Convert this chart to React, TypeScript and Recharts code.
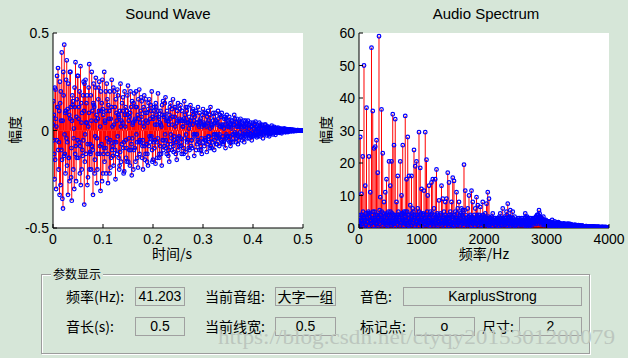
import React from 'react'
import { ComposedChart, Bar, Scatter, XAxis, YAxis, CartesianGrid } from 'recharts'

// sampling steps of the two plots
const WAVE_DT = 0.0025
const SPEC_DF = 20

// waveform samples at 0, 0.0025, 0.005 ... s (10 per row = 0.025 s)
const WAVE_A = [
  0.03, -0.12, 0.21, -0.05, 0.32, 0.1, -0.28, 0.4, -0.4, 0.44,
  -0.22, 0.36, -0.33, 0.08, 0.3, -0.36, 0.15, -0.3, 0.35, -0.14,
  0.28, -0.06, 0.33, -0.2, 0.18, -0.38, 0.26, 0.04, -0.24, 0.34,
  -0.12, 0.3, -0.33, 0.12, 0.22, -0.27, 0.06, 0.25, -0.31, 0.14,
  -0.22, 0.3, -0.09, 0.24, -0.27, 0.1, -0.19, 0.26, -0.13, 0.2,
  -0.25, 0.05, 0.18, -0.2, 0.24, -0.07, 0.17, -0.21, 0.12, -0.16,
  0.23, -0.1, 0.2, -0.23, 0.04, 0.19, -0.16, 0.12, -0.19, 0.21,
  -0.06, 0.15, -0.2, 0.18, -0.12, 0.09, -0.18, 0.16, -0.04, 0.2,
  -0.15, 0.12, -0.17, 0.03, 0.19, -0.14, 0.1, -0.18, 0.15, -0.08,
  0.17, -0.12, 0.05, -0.16, 0.14, -0.1, 0.16, -0.03, 0.12, -0.15,
  0.14, -0.08, 0.13, -0.12, 0.02, 0.15, -0.11, 0.1, -0.14, 0.07,
  0.13, -0.05, 0.11, -0.13, 0.09, -0.02, 0.12, -0.1, 0.06, -0.12,
  0.11, -0.08, 0.03, -0.11, 0.1, -0.06, 0.12, -0.09, 0.05, -0.1,
  0.09, -0.04, 0.1, -0.08, 0.02, 0.09, -0.07, 0.06, -0.09, 0.08,
  -0.03, 0.07, -0.08, 0.05, -0.06, 0.08, -0.02, 0.06, -0.07, 0.04,
  0.06, -0.05, 0.03, -0.06, 0.05, -0.02, 0.05, -0.04, 0.04, -0.05,
  0.04, -0.02, 0.045, -0.035, 0.01, 0.04, -0.03, 0.03, -0.04, 0.02,
  0.03, -0.025, 0.02, -0.03, 0.008, 0.025, -0.02, 0.018, -0.022, 0.012,
  0.015, -0.012, 0.01, -0.014, 0.006, 0.011, -0.009, 0.007, -0.008, 0.005,
  0.005, -0.004, 0.004, -0.003, 0.002, -0.002, 0.002, -0.001, 0.001, 0,
]

// samples a quarter step later
const WAVE_B = [
  0.15, -0.25, 0.06, 0.28, -0.1, -0.33, 0.2, -0.15, 0.3, -0.02,
  0.1, -0.18, 0.24, -0.26, 0.12, 0.05, -0.2, 0.22, -0.08, 0.16,
  -0.14, 0.2, -0.28, 0.09, -0.05, 0.24, -0.12, 0.18, 0.02, -0.2,
  0.18, -0.08, 0.14, -0.22, 0.27, -0.04, 0.16, -0.12, 0.2, -0.26,
  0.08, -0.16, 0.2, -0.04, 0.13, -0.22, 0.06, -0.1, 0.22, -0.06,
  0.16, -0.12, 0.08, -0.18, 0.02, 0.14, -0.09, 0.2, -0.05, 0.1,
  -0.16, 0.07, -0.1, 0.15, -0.2, 0.05, 0.12, -0.06, 0.16, -0.12,
  0.1, -0.14, 0.04, -0.08, 0.16, -0.16, 0.11, -0.03, 0.13, -0.1,
  0.06, -0.09, 0.14, -0.06, 0.1, -0.12, 0.03, 0.13, -0.1, 0.08,
  -0.05, 0.1, -0.13, 0.08, -0.02, 0.11, -0.08, 0.12, -0.12, 0.04,
  -0.1, 0.06, -0.04, 0.1, -0.09, 0.05, 0.12, -0.06, 0.04, -0.1,
  0.05, -0.09, 0.08, -0.03, 0.1, -0.07, 0.03, 0.09, -0.08, 0.02,
  -0.06, 0.09, -0.05, 0.07, -0.03, 0.08, -0.08, 0.02, 0.09, -0.05,
  0.05, -0.07, 0.06, -0.02, 0.07, -0.06, 0.03, -0.05, 0.06, -0.03,
  0.04, -0.06, 0.02, 0.05, -0.04, 0.03, -0.06, 0.04, -0.02, 0.05,
  -0.03, 0.04, -0.04, 0.02, -0.03, 0.04, -0.01, 0.03, -0.03, 0.02,
  -0.03, 0.03, -0.01, 0.02, -0.03, 0.02, -0.01, 0.025, -0.02, 0.01,
  -0.015, 0.02, -0.01, 0.015, -0.018, 0.01, -0.005, 0.012, -0.01, 0.008,
  -0.008, 0.01, -0.005, 0.008, -0.006, 0.004, -0.006, 0.005, -0.003, 0.004,
  -0.003, 0.003, -0.002, 0.002, -0.002, 0.001, -0.001, 0.001, 0, 0,
]

// samples half a step later
const WAVE_C = [
  -0.05, 0.22, -0.3, 0.12, -0.2, 0.25, 0.05, -0.35, 0.18, -0.12,
  0.26, -0.06, -0.14, 0.3, -0.24, 0.18, -0.04, 0.12, -0.26, 0.28,
  0.06, -0.22, 0.14, -0.1, 0.25, -0.16, 0.04, -0.28, 0.22, -0.07,
  -0.2, 0.1, 0.24, -0.15, 0.05, -0.2, 0.22, -0.08, 0.1, 0.26,
  -0.12, 0.05, -0.22, 0.16, -0.06, 0.2, -0.14, 0.02, -0.18, 0.12,
  -0.06, 0.21, -0.14, 0.1, -0.16, 0.04, -0.22, 0.08, -0.14, 0.18,
  0.05, -0.18, 0.12, -0.04, 0.14, -0.09, 0.2, -0.14, 0.06, -0.05,
  0.17, -0.08, 0.12, -0.15, 0.05, -0.12, 0.14, -0.06, 0.1, -0.16,
  0.1, -0.05, 0.12, -0.14, 0.07, 0.04, -0.12, 0.08, -0.05, 0.14,
  -0.09, 0.06, -0.1, 0.12, -0.07, 0.03, -0.11, 0.07, -0.06, 0.1,
  -0.04, 0.11, -0.08, 0.05, -0.12, 0.08, -0.02, 0.12, -0.09, 0.03,
  -0.08, 0.1, -0.02, 0.07, -0.1, 0.04, -0.06, 0.05, -0.1, 0.08,
  0.04, -0.05, 0.09, -0.07, 0.05, -0.09, 0.03, -0.06, 0.07, -0.02,
  -0.07, 0.04, -0.03, 0.08, -0.05, 0.02, -0.06, 0.07, -0.04, 0.05,
  -0.05, 0.03, -0.06, 0.04, -0.02, 0.06, -0.04, 0.02, -0.05, 0.03,
  0.02, -0.03, 0.05, -0.02, 0.03, -0.04, 0.03, -0.02, 0.02, -0.03,
  -0.02, 0.035, -0.025, 0.01, -0.02, 0.03, -0.02, 0.01, -0.015, 0.03,
  -0.01, 0.012, -0.02, 0.01, -0.012, 0.015, -0.01, 0.008, -0.012, 0.01,
  -0.006, 0.007, -0.01, 0.004, -0.005, 0.006, -0.004, 0.003, -0.005, 0.003,
  -0.002, 0.002, -0.003, 0.001, -0.001, 0.002, -0.001, 0, -0.001, 0,
]

// small samples three quarters of a step later
const WAVE_D = [
  0.08, -0.15, 0.02, 0.12, -0.06, 0.14, -0.1, 0.05, -0.13, 0.09,
  -0.04, 0.11, -0.14, 0.06, -0.09, 0.13, 0.01, -0.12, 0.07, -0.05,
  0.12, -0.08, 0.04, -0.13, 0.1, -0.02, 0.14, -0.07, 0.09, -0.11,
  0.05, -0.1, 0.13, -0.03, 0.08, -0.12, 0.1, 0.02, -0.07, 0.11,
  -0.09, 0.04, 0.1, -0.12, 0.06, -0.05, 0.12, -0.08, 0.03, -0.1,
  0.09, -0.03, 0.07, -0.11, 0.05, 0.1, -0.06, 0.02, -0.09, 0.08,
  -0.04, 0.09, -0.07, 0.03, -0.1, 0.06, -0.02, 0.08, -0.06, 0.04,
  0.07, -0.05, 0.02, 0.09, -0.07, 0.04, -0.08, 0.06, -0.03, 0.07,
  -0.06, 0.03, 0.08, -0.04, 0.06, -0.08, 0.02, -0.05, 0.07, -0.02,
  0.05, -0.07, 0.03, 0.06, -0.04, 0.07, -0.05, 0.02, -0.06, 0.05,
  -0.03, 0.05, -0.06, 0.02, 0.06, -0.04, 0.04, -0.05, 0.01, 0.05,
  -0.05, 0.03, 0.05, -0.02, 0.04, -0.05, 0.02, 0.04, -0.04, 0.03,
  0.03, -0.04, 0.02, 0.04, -0.03, 0.01, -0.04, 0.03, -0.02, 0.04,
  -0.02, 0.03, -0.04, 0.02, 0.03, -0.03, 0.01, 0.03, -0.02, 0.02,
  0.02, -0.03, 0.01, -0.02, 0.03, -0.01, 0.02, -0.03, 0.02, -0.01,
  0.01, -0.02, 0.02, -0.01, 0.015, -0.02, 0.01, -0.015, 0.02, -0.01,
  0.012, -0.01, 0.015, -0.008, 0.01, -0.012, 0.006, -0.01, 0.008, -0.006,
  0.006, -0.008, 0.005, -0.006, 0.007, -0.004, 0.005, -0.006, 0.004, -0.003,
  0.003, -0.004, 0.002, -0.003, 0.003, -0.002, 0.002, -0.002, 0.001, -0.002,
  0.001, -0.001, 0.001, -0.001, 0.001, 0, 0.001, 0, 0, 0,
]

// spectrum magnitude at 0, 20, 40 ... Hz
const SPEC_PEAKS = [
  0.5, 28, 10.5, 22, 50, 13, 37, 4.5, 22, 11,
  55.5, 36, 24.5, 25, 27, 17, 59, 9.5, 36.5, 23,
  8, 11, 15, 4, 20.5, 13, 20.5, 35, 25.5, 33.5,
  8, 16, 3.5, 20.5, 10, 25.5, 5, 34.5, 15, 28,
  16, 7, 16, 6, 24, 19, 20.5, 6, 29.5, 18.5,
  12, 4, 11.5, 29.5, 21, 10, 13, 5, 14, 15,
  6, 15, 18, 4, 8.5, 3, 13, 9, 5, 8,
  9, 17, 14, 5, 8, 15.5, 14.5, 5, 11, 6,
  8, 4, 6, 5.5, 19.5, 11.5, 3, 6, 10, 4,
  11.5, 8, 3, 6, 9.5, 7, 4, 6.5, 3, 8,
  3, 4.5, 7.5, 11, 9, 3, 2.5, 4.5, 2, 2.5,
  2, 3, 2, 4.5, 2.5, 6, 2, 3, 5, 7.5,
  3.5, 5.5, 2.5, 5, 2, 1.5, 2.5, 1.5, 2, 1.5,
  1.5, 2, 2.5, 4.5, 2, 3, 1.5, 1, 1.5, 2,
  2.5, 3, 3.5, 4, 5.5, 3.5, 2.5, 2, 1.5, 1,
  1.5, 2, 1.2, 1.5, 1, 1.8, 1.3, 0.8, 1.2, 1,
  0.9, 1.4, 0.8, 1.1, 0.7, 1.2, 0.9, 0.6, 1.3, 0.7,
  1, 0.6, 0.8, 0.5, 0.9, 0.6, 0.4, 0.7, 0.5, 0.4,
  0.5, 0.3, 0.6, 0.4, 0.3, 0.5, 0.3, 0.4, 0.2, 0.3,
  0.3, 0.2, 0.3, 0.2, 0.2, 0.3, 0.1, 0.2, 0.2, 0.1,
]

// low bins at 5, 25, 45 ... Hz
const SPEC_FLOOR_A = [
  1.5, 4, 2, 5, 3, 1, 3.5, 2, 4.5, 1.5,
  3, 5, 2, 4, 1.5, 3, 4, 2.5, 5, 2,
  3.5, 1.5, 4.5, 2, 3, 5, 1.5, 4, 2.5, 3.5,
  2, 4, 3, 1.5, 4.5, 2.5, 3.5, 5, 1.5, 4,
  3, 2, 4.5, 1.5, 3.5, 4, 2, 3, 5, 1.5,
  2.5, 4.5, 3, 1, 4, 2, 3.5, 1.5, 4.5, 2.5,
  4, 1.5, 3, 3.5, 2, 4.5, 1.5, 3, 2.5, 4,
  1.5, 3, 4, 2, 3.5, 1, 4, 2.5, 3, 1.5,
  3, 4.5, 1.5, 3.5, 2, 4, 2.5, 1.5, 3.5, 2,
  2, 3, 4, 1.5, 2.5, 3.5, 1.5, 3, 2, 4,
  3.5, 1.5, 2, 3, 1, 2.5, 3.5, 1.5, 2, 3,
  1.5, 2.5, 3.5, 1, 2, 3, 1.5, 2.5, 4, 1.5,
  2, 3.5, 1.5, 3, 2, 1, 2.5, 3, 1.5, 2.5,
  3, 1.5, 2, 3.5, 1, 2.5, 3, 1.5, 2, 3,
  2, 3, 2.5, 4, 3.5, 2, 3, 1.5, 2.5, 2,
  1.2, 2, 1, 1.8, 1.3, 0.8, 1.5, 1, 1.7, 1.1,
  1, 0.7, 1.2, 0.8, 1.3, 0.6, 1, 0.9, 1.1, 0.5,
  0.8, 0.5, 0.7, 0.9, 0.4, 0.6, 0.8, 0.3, 0.6, 0.5,
  0.4, 0.3, 0.5, 0.2, 0.4, 0.3, 0.2, 0.4, 0.3, 0.2,
  0.2, 0.3, 0.1, 0.2, 0.2, 0.1, 0.3, 0.1, 0.2, 0.1,
]

// low bins at 10, 30, 50 ... Hz
const SPEC_FLOOR_B = [
  3, 2.5, 4, 3.5, 2, 4.5, 3, 5, 3.5, 2.5,
  4, 3, 5, 2.5, 4, 3.5, 5.5, 4, 3, 4.5,
  2.5, 4, 3, 5, 2, 3.5, 4.5, 3, 4, 2.5,
  3.5, 5, 2.5, 4, 3, 4.5, 2, 3.5, 5, 3,
  4, 2.5, 3.5, 5, 3, 2, 4, 3.5, 2.5, 4.5,
  3, 4, 2, 3.5, 5, 2.5, 3, 4, 2, 3.5,
  2.5, 3.5, 4.5, 2, 3, 4, 2.5, 3.5, 2, 3,
  3.5, 2, 3, 4, 2.5, 3.5, 2, 3, 4.5, 2.5,
  2, 3, 4, 2.5, 5.5, 3, 2, 3.5, 2.5, 3,
  3.5, 2.5, 2, 3, 4, 2.5, 3, 2, 3.5, 2.5,
  2, 3, 2.5, 3.5, 2, 3, 2.5, 2, 3, 2.5,
  3, 2, 2.5, 3, 2, 2.5, 3.5, 2, 2.5, 3,
  2.5, 3, 2, 2.5, 3.5, 2, 2.5, 2, 3, 2,
  2, 2.5, 3, 2, 3.5, 2.5, 2, 3, 2.5, 2,
  3, 3.5, 4, 3, 4.5, 3, 2.5, 3.5, 2, 2.5,
  2, 1.5, 2, 1.5, 2.5, 1.5, 2, 1.2, 1.5, 1.8,
  1.5, 1.2, 1, 1.4, 1.1, 0.9, 1.3, 1, 0.8, 1.2,
  0.9, 0.7, 1, 0.8, 0.6, 0.9, 0.7, 0.5, 0.8, 0.6,
  0.5, 0.6, 0.4, 0.5, 0.4, 0.3, 0.5, 0.4, 0.3, 0.4,
  0.3, 0.4, 0.2, 0.3, 0.3, 0.2, 0.2, 0.3, 0.1, 0.2,
]

// lowest bins at 15, 35, 55 ... Hz
const SPEC_FLOOR_C = [
  0.8, 2, 1.2, 0.5, 2.5, 1, 1.8, 0.6, 2.2, 1.4,
  1.6, 0.7, 2.4, 1.1, 0.5, 1.9, 1.3, 2.6, 0.8, 1.5,
  2, 1, 0.6, 2.3, 1.4, 0.9, 2.1, 1.2, 0.5, 1.8,
  1.1, 2.4, 0.8, 1.6, 2, 0.6, 1.3, 2.2, 1, 0.7,
  1.9, 0.9, 1.5, 2.5, 0.7, 1.2, 2, 0.5, 1.7, 1.1,
  0.6, 1.8, 1.2, 2.2, 0.9, 1.5, 0.7, 2.1, 1.3, 0.8,
  2, 1.1, 0.6, 1.7, 1.3, 2.3, 0.8, 1.4, 0.5, 1.9,
  1.2, 0.7, 2.1, 1, 1.6, 0.6, 2.4, 1.1, 0.9, 1.5,
  0.8, 1.7, 1.2, 0.5, 2, 1.3, 0.9, 1.8, 1.1, 0.6,
  1.4, 2, 0.7, 1.2, 1.6, 0.9, 2.2, 0.6, 1.3, 1,
  0.9, 1.4, 1.1, 0.6, 1.8, 1.2, 0.7, 1.5, 1, 0.8,
  1.3, 0.6, 1.6, 1, 0.8, 1.4, 0.9, 1.7, 0.6, 1.2,
  0.7, 1.2, 0.9, 1.5, 0.6, 1.1, 1.4, 0.8, 1.2, 0.9,
  1.1, 0.8, 1.4, 0.6, 1.2, 1, 0.7, 1.3, 0.9, 1.5,
  1.6, 1.2, 1.9, 1.4, 2, 1.1, 1.5, 0.9, 1.3, 1,
  0.8, 1.1, 0.6, 0.9, 1.2, 0.7, 1, 0.8, 0.6, 0.9,
  0.6, 0.8, 0.5, 0.7, 0.6, 0.4, 0.7, 0.5, 0.6, 0.4,
  0.5, 0.4, 0.6, 0.3, 0.5, 0.4, 0.3, 0.5, 0.4, 0.3,
  0.3, 0.2, 0.3, 0.4, 0.2, 0.3, 0.2, 0.2, 0.3, 0.2,
  0.2, 0.1, 0.2, 0.1, 0.2, 0.1, 0.1, 0.2, 0.1, 0.1,
]

const WAVE_X_TICKS = [0, 0.1, 0.2, 0.3, 0.4, 0.5]
const WAVE_Y_TICKS = [-0.5, 0, 0.5]
const SPEC_X_TICKS = [0, 1000, 2000, 3000, 4000]
const SPEC_Y_TICKS = [0, 10, 20, 30, 40, 50, 60]

const waveData = WAVE_A.flatMap((v, i) => [
  { x: i * WAVE_DT, y: v },
  { x: i * WAVE_DT + WAVE_DT / 4, y: WAVE_B[i] },
  { x: i * WAVE_DT + WAVE_DT / 2, y: WAVE_C[i] },
  { x: i * WAVE_DT + (3 * WAVE_DT) / 4, y: WAVE_D[i] },
])
const specData = SPEC_PEAKS.flatMap((v, i) => [
  { x: i * SPEC_DF, y: v },
  { x: i * SPEC_DF + SPEC_DF / 4, y: SPEC_FLOOR_A[i] },
  { x: i * SPEC_DF + SPEC_DF / 2, y: SPEC_FLOOR_B[i] },
  { x: i * SPEC_DF + (3 * SPEC_DF) / 4, y: SPEC_FLOOR_C[i] },
])

const BG = '#d6e6d8'
const SANS = '"Liberation Sans", Arial, sans-serif'
const CJK = '"Noto Sans CJK SC", "Noto Sans", sans-serif'
const TL = 4 // inward tick length

const Stem = (p: any) => {
  if (p.x == null || p.height == null) return null
  const cx = p.x + p.width / 2
  return <line x1={cx} x2={cx} y1={p.y} y2={p.y + p.height} stroke="#ff0000" strokeWidth={1} />
}

const Marker = (p: any) => (
  <circle cx={p.cx} cy={p.cy} r={1.8} fill="none" stroke="#0000ff" strokeWidth={1.2} />
)

const LeftTick = (p: any) => (
  <g>
    <line x1={p.x + 4} x2={p.x + 4 + TL} y1={p.y} y2={p.y} stroke="#000" />
    <text x={p.x} y={p.y} dy={5} textAnchor="end" fontSize={14} fontFamily={SANS} fill="#000">
      {p.payload.value}
    </text>
  </g>
)

const BottomTick = (p: any) => (
  <g>
    <line x1={p.x} x2={p.x} y1={p.y - 5} y2={p.y - 5 - TL} stroke="#000" />
    <text x={p.x} y={p.y} dy={11} textAnchor="middle" fontSize={14} fontFamily={SANS} fill="#000">
      {p.payload.value}
    </text>
  </g>
)

const TopTick = (p: any) => <line x1={p.x} x2={p.x} y1={p.y} y2={p.y + TL} stroke="#000" />
const RightTick = (p: any) => <line x1={p.x - TL} x2={p.x} y1={p.y} y2={p.y} stroke="#000" />

function StemPlot({ data, xDomain, yDomain, xTicks, yTicks, left, right }: any) {
  return (
    <div style={{ position: 'absolute', left: 0, top: 0 }}>
      <ComposedChart
        width={628}
        height={358}
        data={data}
        margin={{ top: 33, right: right, bottom: 100, left: left }}
      >
        <CartesianGrid fill="#ffffff" horizontal={false} vertical={false} />
        <XAxis
          dataKey="x"
          type="number"
          domain={xDomain}
          ticks={xTicks}
          interval={0}
          height={30}
          tickSize={0}
          tickMargin={5}
          axisLine={{ stroke: '#000' }}
          tick={<BottomTick />}
          allowDataOverflow
        />
        <XAxis
          xAxisId="top"
          orientation="top"
          type="number"
          domain={xDomain}
          ticks={xTicks}
          interval={0}
          height={0}
          tickSize={0}
          tickMargin={0}
          axisLine={{ stroke: '#000' }}
          tick={<TopTick />}
          allowDataOverflow
        />
        <YAxis
          type="number"
          domain={yDomain}
          ticks={yTicks}
          interval={0}
          width={50}
          tickSize={0}
          tickMargin={4}
          axisLine={{ stroke: '#000' }}
          tick={<LeftTick />}
          allowDataOverflow
        />
        <YAxis
          yAxisId="right"
          orientation="right"
          type="number"
          domain={yDomain}
          ticks={yTicks}
          interval={0}
          width={0}
          tickSize={0}
          tickMargin={0}
          axisLine={{ stroke: '#000' }}
          tick={<RightTick />}
          allowDataOverflow
        />
        <Bar dataKey="y" barSize={1} shape={<Stem />} isAnimationActive={false} />
        <Scatter dataKey="y" shape={<Marker />} isAnimationActive={false} />
      </ComposedChart>
    </div>
  )
}

const abs = (s: React.CSSProperties): React.CSSProperties => ({ position: 'absolute', ...s })

function Label({ x, y, text }: { x: number; y: number; text: string }) {
  return (
    <div style={abs({ left: x, top: y - 10, height: 20, lineHeight: '20px', fontFamily: CJK, fontSize: 14, color: '#000', whiteSpace: 'nowrap' })}>
      {text}
    </div>
  )
}

function Field({ x1, x2, y1, y2, text }: { x1: number; x2: number; y1: number; y2: number; text: string }) {
  return (
    <div
      style={abs({
        left: x1,
        top: y1,
        width: x2 - x1 - 2,
        height: y2 - y1 - 2,
        border: '1px solid #a0a0a0',
        lineHeight: `${y2 - y1 - 2}px`,
        textAlign: 'center',
        fontFamily: /[\u4e00-\u9fff]/.test(text) ? CJK : SANS,
        fontSize: 14,
        color: '#000',
        whiteSpace: 'nowrap',
      })}
    >
      {text}
    </div>
  )
}

export default function App() {
  return (
    <div style={abs({ left: 0, top: 0, width: 628, height: 358, background: BG, overflow: 'hidden' })}>
      <StemPlot data={waveData} xDomain={[0, 0.5]} yDomain={[-0.5, 0.5]} xTicks={WAVE_X_TICKS} yTicks={WAVE_Y_TICKS} left={3} right={325} />
      <StemPlot data={specData} xDomain={[0, 4000]} yDomain={[0, 60]} xTicks={SPEC_X_TICKS} yTicks={SPEC_Y_TICKS} left={309} right={19} />

      <div style={abs({ left: 78, top: 5, width: 180, textAlign: 'center', fontFamily: SANS, fontSize: 15, color: '#000' })}>Sound Wave</div>
      <div style={abs({ left: 386, top: 5, width: 200, textAlign: 'center', fontFamily: SANS, fontSize: 15, color: '#000' })}>Audio Spectrum</div>
      <div style={abs({ left: 118, top: 243, width: 108, textAlign: 'center', fontFamily: CJK, fontSize: 14, color: '#000' })}>时间/s</div>
      <div style={abs({ left: 430, top: 243, width: 108, textAlign: 'center', fontFamily: CJK, fontSize: 14, color: '#000' })}>频率/Hz</div>
      <div style={abs({ left: -16, top: 120, width: 60, textAlign: 'center', fontFamily: CJK, fontSize: 14, color: '#000', transform: 'rotate(-90deg)' })}>幅度</div>
      <div style={abs({ left: 295, top: 120, width: 60, textAlign: 'center', fontFamily: CJK, fontSize: 14, color: '#000', transform: 'rotate(-90deg)' })}>幅度</div>

      {/* parameter panel */}
      <div style={abs({ left: 41, top: 274, width: 547, height: 78, border: '1px solid #9c9c9c', boxShadow: 'inset 1px 1px 0 #ffffff, 1px 1px 0 #ffffff' })} />
      <div style={abs({ left: 51, top: 265, padding: '0 2px', background: BG, fontFamily: CJK, fontSize: 12, lineHeight: '18px', color: '#000' })}>参数显示</div>

      <Label x={66} y={296} text="频率(Hz):" />
      <Field x1={135} x2={185} y1={287} y2={306} text="41.203" />
      <Label x={205} y={296} text="当前音组:" />
      <Field x1={275} x2={336} y1={287} y2={306} text="大字一组" />
      <Label x={360} y={296} text="音色:" />
      <Field x1={403} x2={582} y1={287} y2={306} text="KarplusStrong" />

      <Label x={66} y={326} text="音长(s):" />
      <Field x1={135} x2={185} y1={317} y2={336} text="0.5" />
      <Label x={205} y={326} text="当前线宽:" />
      <Field x1={275} x2={336} y1={317} y2={336} text="0.5" />
      <Label x={360} y={326} text="标记点:" />
      <Field x1={414} x2={475} y1={317} y2={336} text="o" />
      <Label x={482} y={326} text="尺寸:" />
      <Field x1={519} x2={582} y1={317} y2={336} text="2" />

      <svg width={628} height={358} style={abs({ left: 0, top: 0, pointerEvents: 'none' })}>
        <text x={218} y={344} fontFamily='"Liberation Serif", "DejaVu Serif", serif' fontSize={20} fill="#bcc6be" textLength={397} lengthAdjust="spacingAndGlyphs">
          https://blog.csdn.net/ctyqy2015301200079
        </text>
      </svg>
    </div>
  )
}
